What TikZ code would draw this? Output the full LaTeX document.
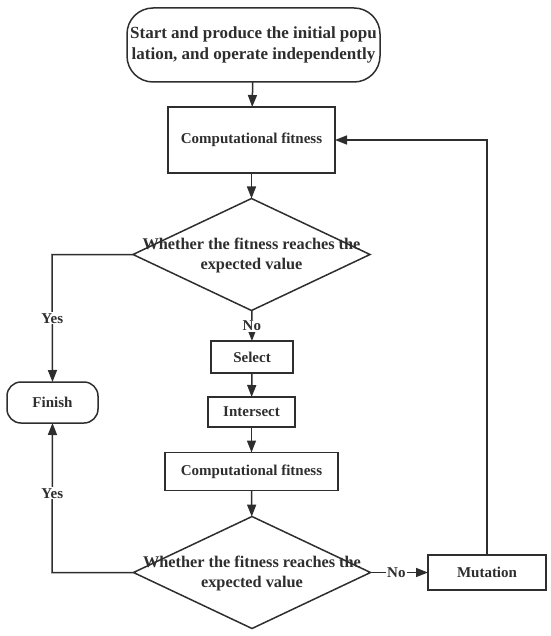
\documentclass[tikz,border=0pt]{standalone}
\usepackage{fontspec}
\setmainfont{Liberation Serif}
\usetikzlibrary{arrows.meta,shapes.geometric}
\definecolor{ink}{HTML}{2E2E2E}
\begin{document}
\begin{tikzpicture}[x=1pt,y=-1pt,
  every node/.style={font=\fontsize{15}{20}\selectfont\bfseries, text=ink, inner sep=0pt, outer sep=0pt},
  base/.style={draw=ink, line width=1.5pt},
  box/.style={base, rectangle, align=center},
  term/.style={base, rectangle, rounded corners=#1, align=center},
  dia/.style={base, diamond, minimum width=237pt, minimum height=112pt},
  diatext/.style={align=center, font=\fontsize{16.3}{20}\selectfont\bfseries},
  lbl/.style={fill=white, inner sep=1pt},
  conn/.style={draw=ink, line width=1.5pt},
  arr/.style={conn, -{Triangle[length=12pt,width=9pt]}}
]
\useasboundingbox (0,0) rectangle (550,636);
\node[term=26pt, minimum width=253pt, minimum height=74pt, font=\fontsize{17}{21}\selectfont\bfseries] (start) at (253.5,45)
  {Start and produce the initial popu\\lation, and operate independently};
\node[box, minimum width=167pt, minimum height=66pt] (comp1) at (251.5,140) {Computational fitness};
\node[dia] (d1) at (251.5,254.5) {};
\node[diatext] (d1t) at (251.5,255) {Whether the fitness reaches the\\expected value};
\node[box, minimum width=82pt, minimum height=32pt] (sel) at (252,357) {Select};
\node[box, minimum width=87pt, minimum height=30pt] (inter) at (251.5,412) {Intersect};
\node[box, minimum width=173pt, minimum height=38pt] (comp2) at (251.5,471.5) {Computational fitness};
\node[dia] (d2) at (252,572.5) {};
\node[diatext] (d2t) at (252,573) {Whether the fitness reaches the\\expected value};
\node[box, minimum width=118pt, minimum height=35pt] (mut) at (487,572.5) {Mutation};
\node[term=14pt, minimum width=91pt, minimum height=41pt] (fin) at (52.5,402.5) {Finish};
\coordinate (c1) at (52,254.5);
\coordinate (c2) at (52,572.5);
\coordinate (c3) at (487,140);

\draw[arr] (start) -- (comp1);
\draw[arr] (comp1) -- (d1);
\draw[arr] (d1) -- node[lbl] {No} (sel);
\draw[arr] (sel) -- (inter);
\draw[arr] (inter) -- (comp2);
\draw[arr] (comp2) -- (d2);
\draw[arr] (d2) -- node[lbl, pos=0.45] {No} (mut);
\draw[arr] (d1.west) -- (c1) -- node[lbl, pos=0.5] {Yes} (fin.north);
\draw[arr] (d2.west) -- (c2) -- node[lbl, pos=0.53] {Yes} (fin.south);
\draw[arr] (mut.north) -- (c3) -- (comp1.east);
\end{tikzpicture}
\end{document}
